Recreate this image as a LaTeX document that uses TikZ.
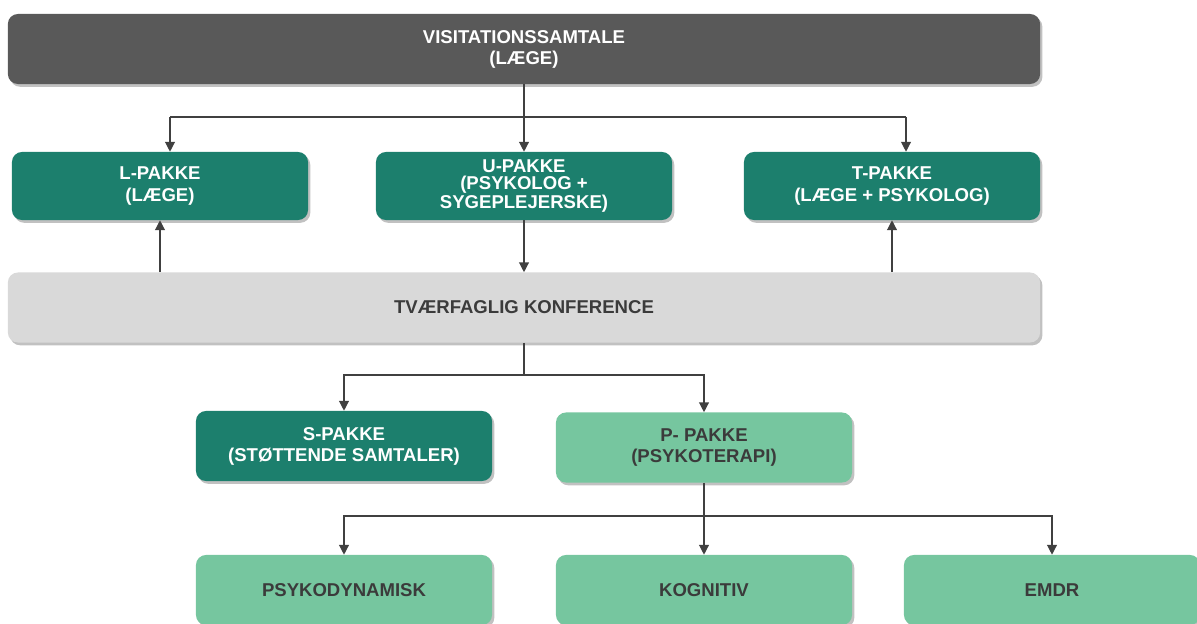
\documentclass[tikz,border=0pt]{standalone}
\usepackage{fontspec}
\setmainfont{Liberation Sans}
\usepackage{xcolor}
\usetikzlibrary{arrows.meta}
\usetikzlibrary{shadows}

\definecolor{visitgray}{HTML}{595959}
\definecolor{pakteal}{HTML}{1C7F6D}
\definecolor{konfgray}{HTML}{D9D9D9}
\definecolor{terapigreen}{HTML}{76C69F}
\definecolor{textgray}{HTML}{3B3B3B}
\definecolor{linegray}{HTML}{404040}

\begin{document}
\begin{tikzpicture}[x=0.025cm,y=-0.025cm,
  box/.style={rounded corners=0.25cm,minimum width=7.4cm,minimum height=1.75cm,
    align=center,inner sep=0pt,font=\bfseries\fontsize{13.2}{15}\selectfont,
    drop shadow={shadow xshift=1.6pt,shadow yshift=-2pt,opacity=0.35,fill=black!70}},
  widebox/.style={box,minimum width=25.8cm},
  pakke/.style={box,fill=pakteal,text=white},
  terapi/.style={box,fill=terapigreen,text=textgray},
  link/.style={draw=linegray,line width=0.9pt,-{Triangle[width=7pt,length=7pt]}},
  line/.style={draw=linegray,line width=0.9pt}]
\useasboundingbox (0,0) rectangle (1197,624);
\clip (0,0) rectangle (1197,624);

% boxes
\node[widebox,fill=visitgray,text=white] (visit) at (524,49) {VISITATIONSSAMTALE\\(LÆGE)};
\node[pakke,minimum height=1.7cm] (lpak) at (160,186) {L-PAKKE\\(LÆGE)};
\node[pakke,minimum height=1.7cm,font=\bfseries\fontsize{13.2}{12}\selectfont] (upak) at (524,186) {U-PAKKE\\(PSYKOLOG +\\SYGEPLEJERSKE)};
\node[pakke,minimum height=1.7cm] (tpak) at (892,186) {T-PAKKE\\(LÆGE + PSYKOLOG)};
\node[widebox,fill=konfgray,text=textgray] (konf) at (524,307.5) {TVÆRFAGLIG KONFERENCE};
\node[pakke] (spak) at (344,446) {S-PAKKE\\(STØTTENDE SAMTALER)};
\node[terapi] (ppak) at (704,447.5) {P- PAKKE\\(PSYKOTERAPI)};
\node[terapi] (dyn) at (344,590) {PSYKODYNAMISK};
\node[terapi] (kog) at (704,590) {KOGNITIV};
\node[terapi] (emdr) at (1052,590) {EMDR};

% connectors
\coordinate (split1) at (524,117);
\coordinate (split2) at (524,375);
\coordinate (split3) at (704,516);
\draw[link] (visit.south) -- (upak.north);
\draw[line] ([xshift=0.25cm]lpak.north |- split1) -- ([xshift=0.35cm]tpak.north |- split1);
\draw[link] ([xshift=0.25cm]lpak.north |- split1) -- ([xshift=0.25cm]lpak.north);
\draw[link] ([xshift=0.35cm]tpak.north |- split1) -- ([xshift=0.35cm]tpak.north);
\draw[link] (upak.south) -- (konf.north);
\draw[link] (konf.north -| lpak) -- (lpak.south);
\draw[link] (konf.north -| tpak) -- (tpak.south);
\draw[line] (konf.south) -- (split2);
\draw[link] (split2) -| (spak.north);
\draw[link] (split2) -| (ppak.north);
\draw[line] (ppak.south) -- (split3);
\draw[link] (split3) -| (dyn.north);
\draw[link] (split3) -- (kog.north);
\draw[link] (split3) -| (emdr.north);

\end{tikzpicture}
\end{document}
